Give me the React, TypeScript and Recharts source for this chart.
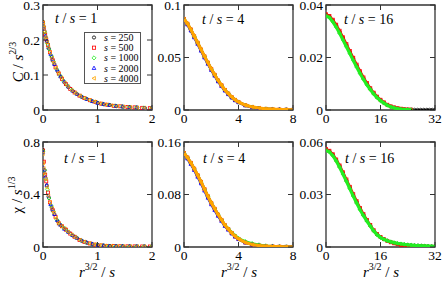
import React from 'react';
import { ScatterChart, Scatter, XAxis, YAxis, ReferenceArea } from 'recharts';

const FONT = 'Liberation Serif';
const AX = '#333333';

// ---------- series meta ----------
const S_LABELS = ['250', '500', '1000', '2000', '4000'];
const S_COLORS = ['#000000', '#ff0000', '#22ee22', '#0000ff', '#ffa500'];
type Kind = 'circle' | 'square' | 'diamond' | 'up' | 'left';
const S_KINDS: Kind[] = ['circle', 'square', 'diamond', 'up', 'left'];

// ---------- t/s = 1 (shared x = r^{3/2}/s per s) ----------
const X1_250 = [0, 0.03, 0.07, 0.11, 0.16, 0.21, 0.27, 0.33, 0.4, 0.47, 0.55, 0.63, 0.72, 0.81, 0.91, 1.01, 1.12, 1.23, 1.35, 1.47, 1.6, 1.73, 1.87, 2.0];
const X1_500 = [0, 0.015, 0.04, 0.06, 0.09, 0.13, 0.18, 0.23, 0.29, 0.35, 0.42, 0.5, 0.58, 0.67, 0.76, 0.86, 0.96, 1.07, 1.18, 1.3, 1.42, 1.55, 1.68, 1.82, 1.96];
const X1_1000 = [0, 0.01, 0.03, 0.05, 0.08, 0.11, 0.15, 0.19, 0.25, 0.31, 0.38, 0.45, 0.53, 0.61, 0.7, 0.79, 0.89, 0.99, 1.1, 1.21, 1.33, 1.45, 1.58, 1.71, 1.85, 1.99];
const X1_2000 = [0, 0.005, 0.02, 0.045, 0.07, 0.1, 0.14, 0.17, 0.21, 0.26, 0.32, 0.39, 0.46, 0.54, 0.62, 0.71, 0.8, 0.9, 1.0, 1.11, 1.22, 1.34, 1.46, 1.59, 1.72, 1.86, 2.0];
const X1_4000 = [0, 0.005, 0.015, 0.03, 0.05, 0.075, 0.1, 0.13, 0.165, 0.2, 0.24, 0.285, 0.34, 0.4, 0.46, 0.53, 0.6, 0.68, 0.76, 0.85, 0.94, 1.04, 1.14, 1.25, 1.36, 1.48, 1.6, 1.73, 1.86, 2.0];

// C / s^{2/3}, t/s = 1
const C1_250 = [0.252, 0.224, 0.197, 0.175, 0.151, 0.131, 0.11, 0.094, 0.078, 0.065, 0.054, 0.045, 0.037, 0.031, 0.025, 0.02, 0.016, 0.014, 0.011, 0.0095, 0.008, 0.007, 0.006, 0.005];
const C1_500 = [0.248, 0.236, 0.215, 0.202, 0.186, 0.165, 0.142, 0.122, 0.104, 0.089, 0.074, 0.06, 0.05, 0.041, 0.034, 0.028, 0.023, 0.018, 0.015, 0.012, 0.0105, 0.0085, 0.0075, 0.0062, 0.0052];
const C1_1000 = [0.246, 0.238, 0.222, 0.208, 0.19, 0.174, 0.155, 0.139, 0.117, 0.099, 0.083, 0.069, 0.057, 0.047, 0.039, 0.032, 0.026, 0.021, 0.017, 0.0145, 0.012, 0.01, 0.0085, 0.0072, 0.0062, 0.0052];
const C1_2000 = [0.247, 0.242, 0.231, 0.212, 0.197, 0.179, 0.16, 0.146, 0.131, 0.115, 0.096, 0.081, 0.067, 0.055, 0.046, 0.038, 0.031, 0.025, 0.02, 0.017, 0.014, 0.0115, 0.0098, 0.0083, 0.0071, 0.006, 0.005];
const C1_4000 = [0.25, 0.243, 0.235, 0.224, 0.208, 0.193, 0.179, 0.164, 0.148, 0.134, 0.12, 0.106, 0.092, 0.078, 0.067, 0.056, 0.048, 0.04, 0.034, 0.028, 0.024, 0.019, 0.016, 0.013, 0.011, 0.0095, 0.008, 0.0068, 0.006, 0.005];

// chi / s^{1/3}, t/s = 1
const K1_250 = [0.74, 0.585, 0.47, 0.373, 0.3, 0.25, 0.196, 0.165, 0.14, 0.113, 0.087, 0.067, 0.046, 0.032, 0.022, 0.015, 0.0105, 0.0078, 0.0065, 0.0057, 0.005, 0.0045, 0.004, 0.004];
const K1_500 = [0.735, 0.65, 0.55, 0.5, 0.415, 0.34, 0.28, 0.23, 0.18, 0.158, 0.132, 0.102, 0.078, 0.054, 0.039, 0.027, 0.018, 0.012, 0.0085, 0.007, 0.006, 0.0052, 0.0047, 0.0042, 0.004];
const K1_1000 = [0.73, 0.56, 0.585, 0.52, 0.44, 0.373, 0.315, 0.27, 0.21, 0.172, 0.145, 0.12, 0.092, 0.072, 0.05, 0.035, 0.024, 0.016, 0.011, 0.008, 0.0066, 0.0057, 0.005, 0.0045, 0.004, 0.004];
const K1_2000 = [0.72, 0.6, 0.58, 0.535, 0.47, 0.39, 0.325, 0.29, 0.25, 0.205, 0.168, 0.138, 0.115, 0.09, 0.069, 0.049, 0.035, 0.024, 0.015, 0.011, 0.0078, 0.0066, 0.0057, 0.005, 0.0045, 0.004, 0.004];
const K1_4000 = [0.71, 0.64, 0.6, 0.56, 0.52, 0.455, 0.39, 0.34, 0.295, 0.26, 0.22, 0.185, 0.158, 0.14, 0.116, 0.094, 0.073, 0.052, 0.039, 0.027, 0.019, 0.014, 0.01, 0.0077, 0.0065, 0.0056, 0.005, 0.0045, 0.004, 0.004];

// ---------- t/s = 4 ----------
const X4 = [0, 0.25, 0.5, 0.75, 1, 1.25, 1.5, 1.75, 2, 2.25, 2.5, 2.75, 3, 3.25, 3.5, 3.75, 4, 4.5, 5, 5.5, 6, 6.5, 7, 7.5, 8];
const C4_250 = [0.0868, 0.0823, 0.0768, 0.0703, 0.0642, 0.0577, 0.0512, 0.0451, 0.0392, 0.0337, 0.0282, 0.0237, 0.0192, 0.0157, 0.0124, 0.0097, 0.0077, 0.0046, 0.0029, 0.0018, 0.0011, 0.0007, 0.0004, 0.0003, 0.0002];
const C4_500 = [0.0866, 0.0821, 0.0766, 0.0701, 0.064, 0.0575, 0.051, 0.045, 0.039, 0.0335, 0.028, 0.0235, 0.019, 0.0155, 0.0122, 0.0095, 0.0075, 0.0045, 0.0028, 0.0018, 0.0011, 0.0007, 0.0004, 0.0003, 0.0002];
const C4_1000 = [0.0864, 0.0818, 0.0763, 0.0698, 0.0637, 0.0572, 0.0507, 0.0447, 0.0387, 0.0333, 0.0278, 0.0233, 0.0189, 0.0154, 0.0121, 0.0094, 0.0074, 0.0045, 0.0028, 0.0018, 0.0011, 0.0007, 0.0004, 0.0003, 0.0002];
const C4_2000 = [0.086, 0.0812, 0.0755, 0.069, 0.0628, 0.0563, 0.0498, 0.0438, 0.0379, 0.0325, 0.0271, 0.0227, 0.0183, 0.0149, 0.0117, 0.0091, 0.0072, 0.0043, 0.0027, 0.0017, 0.001, 0.0006, 0.0004, 0.0003, 0.0002];
const C4_4000 = [0.0866, 0.0822, 0.0767, 0.0702, 0.0641, 0.0576, 0.0511, 0.0451, 0.0391, 0.0336, 0.0281, 0.0236, 0.0191, 0.0156, 0.0123, 0.0096, 0.0076, 0.0046, 0.0029, 0.0019, 0.0012, 0.0008, 0.0005, 0.0003, 0.0002];

const K4_250 = [0.1435, 0.1365, 0.1285, 0.1195, 0.1095, 0.0995, 0.0885, 0.0775, 0.0675, 0.0585, 0.0495, 0.0415, 0.0335, 0.0275, 0.0215, 0.0165, 0.0125, 0.007, 0.004, 0.0023, 0.0014, 0.0008, 0.0005, 0.0003, 0.0002];
const K4_500 = [0.1432, 0.1362, 0.1282, 0.1192, 0.1092, 0.0992, 0.0882, 0.0772, 0.0672, 0.0582, 0.0492, 0.0412, 0.0332, 0.0272, 0.0212, 0.0162, 0.0122, 0.0069, 0.0039, 0.0023, 0.0013, 0.0008, 0.0005, 0.0003, 0.0002];
const K4_1000 = [0.1428, 0.1358, 0.1278, 0.1188, 0.1088, 0.0988, 0.0878, 0.077, 0.067, 0.058, 0.049, 0.0412, 0.0334, 0.0276, 0.022, 0.0172, 0.0133, 0.0085, 0.0055, 0.0035, 0.002, 0.0011, 0.0006, 0.0004, 0.0002];
const K4_2000 = [0.142, 0.1345, 0.1262, 0.117, 0.1068, 0.0967, 0.0857, 0.0748, 0.0648, 0.056, 0.0472, 0.0395, 0.0318, 0.026, 0.0203, 0.0155, 0.0117, 0.0066, 0.0037, 0.0021, 0.0012, 0.0007, 0.0004, 0.0003, 0.0002];
const K4_4000 = [0.143, 0.1362, 0.1282, 0.1192, 0.1092, 0.0992, 0.0882, 0.0772, 0.0672, 0.0582, 0.0492, 0.0412, 0.0332, 0.0272, 0.0212, 0.0162, 0.0122, 0.0068, 0.0038, 0.0022, 0.0013, 0.0008, 0.0005, 0.0003, 0.0002];

// ---------- t/s = 16 ----------
const X16_250 = [0, 1, 2, 3, 4, 5, 6, 7, 8, 9, 10, 11, 12, 13, 14, 15, 16, 17, 18, 19, 20, 21, 22, 23, 24, 25, 26, 26.9, 27.8, 28.7, 29.6, 30.4, 31.2, 32];
const X16 = [0, 1, 2, 3, 4, 5, 6, 7, 8, 9, 10, 11, 12, 13, 14, 15, 16, 17, 18, 19, 20, 21, 22, 23, 24, 25];
const C16_250 = [0.0363, 0.0356, 0.0341, 0.0321, 0.0298, 0.0273, 0.0247, 0.0221, 0.0195, 0.0169, 0.0144, 0.0121, 0.01, 0.0081, 0.0064, 0.005, 0.0038, 0.0028, 0.0019, 0.0013, 0.0009, 0.0006, 0.0004, 0.0003, 0.0002, 0.00015, 0.0001, 0.0001, 0.0001, 0.0001, 0.0001, 0.0001, 0.0001, 0.0001];
const C16_500 = [0.0365, 0.0358, 0.0344, 0.0325, 0.0302, 0.0277, 0.0251, 0.0225, 0.0199, 0.0173, 0.0148, 0.0124, 0.0103, 0.0083, 0.0066, 0.0051, 0.0039, 0.0029, 0.002, 0.0014, 0.001, 0.0007, 0.0005, 0.0003, 0.0002, 0.00015];
const C16_1000 = [0.036, 0.0352, 0.0336, 0.0316, 0.0292, 0.0267, 0.0241, 0.0215, 0.0189, 0.0164, 0.0139, 0.0117, 0.0096, 0.0078, 0.0061, 0.0047, 0.0035, 0.0026, 0.0018, 0.0012, 0.0008, 0.0005, 0.0003, 0.0002, 0.00015, 0.0001];

const X16K = [0, 1, 2, 3, 4, 5, 6, 7, 8, 9, 10, 11, 12, 13, 14, 15, 16, 17, 18, 19, 20, 21, 22, 23, 24, 25, 26, 27, 28, 29, 30, 31, 32];
const K16_250 = [0.0557, 0.0547, 0.0527, 0.0497, 0.0462, 0.0422, 0.0381, 0.0339, 0.0297, 0.0257, 0.0219, 0.0184, 0.0152, 0.0123, 0.0094, 0.0072, 0.0056, 0.0045, 0.0036, 0.0029, 0.0023, 0.0019, 0.0016, 0.0014, 0.0012, 0.001, 0.0009, 0.0008, 0.0007, 0.0006, 0.0005, 0.0004, 0.0004];
const K16_500 = [0.056, 0.055, 0.053, 0.05, 0.0466, 0.0427, 0.0386, 0.0344, 0.0302, 0.0262, 0.0223, 0.0188, 0.0155, 0.0126, 0.0096, 0.0074, 0.0057, 0.0045, 0.0035, 0.0027, 0.0021, 0.0016, 0.0012, 0.0009, 0.0007, 0.0005, 0.0004, 0.0003, 0.0002, 0.0002, 0.0001, 0.0001, 0.0001];
const K16_1000 = [0.0553, 0.0543, 0.0522, 0.0492, 0.0456, 0.0416, 0.0375, 0.0333, 0.0291, 0.0251, 0.0213, 0.0179, 0.0148, 0.012, 0.0092, 0.007, 0.0054, 0.0044, 0.0036, 0.003, 0.0025, 0.0021, 0.0018, 0.0015, 0.0013, 0.0011, 0.0009, 0.0008, 0.0007, 0.0006, 0.0005, 0.0004, 0.0003];

// ---------- ticks ----------
const XT1 = [0, 1, 2];
const XT4 = [0, 4, 8];
const XT16 = [0, 16, 32];
const YT_C1 = [0, 0.1, 0.2, 0.3];
const YT_C4 = [0, 0.05, 0.1];
const YT_C16 = [0, 0.02, 0.04];
const YT_K1 = [0, 0.4, 0.8];
const YT_K4 = [0, 0.08, 0.16];
const YT_K16 = [0, 0.03, 0.06];

// ---------- layout ----------
const PW = 109;
const PH = 105;
const ML = 46;
const MT = 8;
const MR = 8;
const MB = 26;
const TICK = 5;
const FS = 13.5;

type Pt = { x: number; y: number };
const zip = (xs: number[], ys: number[]): Pt[] => xs.map((x, i) => ({ x, y: ys[i] }));

function marker(kind: Kind, cx: number, cy: number, color: string, r: number, sw: number) {
  const common = { fill: 'none', stroke: color, strokeWidth: sw };
  switch (kind) {
    case 'circle':
      return <circle cx={cx} cy={cy} r={r} {...common} />;
    case 'square':
      return <rect x={cx - r} y={cy - r} width={2 * r} height={2 * r} {...common} />;
    case 'diamond': {
      const d = r * 1.3;
      return <polygon points={`${cx},${cy - d} ${cx + d},${cy} ${cx},${cy + d} ${cx - d},${cy}`} {...common} />;
    }
    case 'up':
      return <polygon points={`${cx},${cy - r * 1.25} ${cx + r * 1.15},${cy + r * 0.85} ${cx - r * 1.15},${cy + r * 0.85}`} {...common} />;
    case 'left':
    default:
      return <polygon points={`${cx - r * 1.25},${cy} ${cx + r * 0.85},${cy - r * 1.15} ${cx + r * 0.85},${cy + r * 1.15}`} {...common} />;
  }
}

type Series = { idx: number; xs: number[]; ys: number[]; line?: number };

const XTick = (p: any) => {
  const { x, y, payload } = p;
  return (
    <g>
      <line x1={x} x2={x} y1={y} y2={y - TICK} stroke={AX} strokeWidth={1} />
      <line x1={x} x2={x} y1={y - PH} y2={y - PH + TICK} stroke={AX} strokeWidth={1} />
      <text x={x} y={y + 13} textAnchor="middle" fontFamily={FONT} fontSize={FS} fill="#000">
        {String(payload.value)}
      </text>
    </g>
  );
};

const YTick = (p: any) => {
  const { x, y, payload } = p;
  const ax = x + 3;
  return (
    <g>
      <line x1={ax} x2={ax + TICK} y1={y} y2={y} stroke={AX} strokeWidth={1} />
      <line x1={ax + PW - TICK} x2={ax + PW} y1={y} y2={y} stroke={AX} strokeWidth={1} />
      <text x={x} y={y + 4.8} textAnchor="end" fontFamily={FONT} fontSize={FS} fill="#000">
        {String(payload.value)}
      </text>
    </g>
  );
};

function Panel(props: {
  left: number;
  top: number;
  xMax: number;
  xTicks: number[];
  yMax: number;
  yTicks: number[];
  series: Series[];
  r: number;
}) {
  const { left, top, xMax, xTicks, yMax, yTicks, series, r } = props;
  const W = ML + PW + MR;
  const H = MT + PH + MB;
  return (
    <div style={{ position: 'absolute', left: left - ML, top: top - MT, width: W, height: H }}>
      <ScatterChart width={W} height={H} margin={{ top: MT, right: MR, bottom: 0, left: 0 }}>
        <XAxis
          type="number"
          dataKey="x"
          domain={[0, xMax]}
          ticks={xTicks}
          interval={0}
          allowDataOverflow
          height={MB}
          axisLine={false}
          tickLine={false}
          tickSize={0}
          tickMargin={0}
          tick={(tp: any) => <XTick {...tp} />}
        />
        <YAxis
          type="number"
          dataKey="y"
          domain={[0, yMax]}
          ticks={yTicks}
          interval={0}
          allowDataOverflow
          width={ML}
          axisLine={false}
          tickLine={false}
          tickSize={0}
          tickMargin={3}
          tick={(tp: any) => <YTick {...tp} />}
        />
        <ReferenceArea x1={0} x2={xMax} y1={0} y2={yMax} fill="none" fillOpacity={0} stroke={AX} strokeWidth={1.3} ifOverflow="visible" />
        {series.map((s, i) => {
          const color = S_COLORS[s.idx];
          const kind = S_KINDS[s.idx];
          return (
            <Scatter
              key={i}
              data={zip(s.xs, s.ys)}
              isAnimationActive={false}
              line={s.line ? { stroke: color, strokeWidth: s.line } : false}
              shape={(sp: any) => (sp.cx == null ? <g /> : marker(kind, sp.cx, sp.cy, color, r, 0.8))}
            />
          );
        })}
      </ScatterChart>
    </div>
  );
}

const Title = ({ x, y, v }: { x: number; y: number; v: string }) => (
  <text x={x} y={y} fontFamily={FONT} fontSize={14} fill="#000">
    <tspan fontStyle="italic">t</tspan>
    <tspan>{'\u00a0/\u00a0'}</tspan>
    <tspan fontStyle="italic">s</tspan>
    <tspan>{`\u00a0=\u00a0${v}`}</tspan>
  </text>
);

const XLabel = ({ cx }: { cx: number }) => (
  <text x={cx} y={277} textAnchor="middle" fontFamily={FONT} fontSize={15} fill="#000">
    <tspan fontStyle="italic">r</tspan>
    <tspan fontSize={10} dy={-7}>3/2</tspan>
    <tspan dy={7}>{'\u00a0/\u00a0'}</tspan>
    <tspan fontStyle="italic">s</tspan>
  </text>
);

export default function App() {
  const p1: Series[] = [
    { idx: 0, xs: X1_250, ys: C1_250 },
    { idx: 1, xs: X1_500, ys: C1_500 },
    { idx: 2, xs: X1_1000, ys: C1_1000 },
    { idx: 3, xs: X1_2000, ys: C1_2000 },
    { idx: 4, xs: X1_4000, ys: C1_4000 },
  ];
  const p4: Series[] = [
    { idx: 0, xs: X1_250, ys: K1_250 },
    { idx: 1, xs: X1_500, ys: K1_500 },
    { idx: 2, xs: X1_1000, ys: K1_1000 },
    { idx: 3, xs: X1_2000, ys: K1_2000 },
    { idx: 4, xs: X1_4000, ys: K1_4000 },
  ];
  const p2: Series[] = [
    { idx: 0, xs: X4, ys: C4_250, line: 2.5 },
    { idx: 1, xs: X4, ys: C4_500, line: 2.5 },
    { idx: 2, xs: X4, ys: C4_1000, line: 2.5 },
    { idx: 3, xs: X4, ys: C4_2000, line: 2.5 },
    { idx: 4, xs: X4, ys: C4_4000, line: 3.2 },
  ];
  const p5: Series[] = [
    { idx: 0, xs: X4, ys: K4_250, line: 2.5 },
    { idx: 1, xs: X4, ys: K4_500, line: 2.5 },
    { idx: 2, xs: X4, ys: K4_1000, line: 2.5 },
    { idx: 3, xs: X4, ys: K4_2000, line: 2.5 },
    { idx: 4, xs: X4, ys: K4_4000, line: 3.2 },
  ];
  const p3: Series[] = [
    { idx: 0, xs: X16_250, ys: C16_250, line: 1 },
    { idx: 1, xs: X16, ys: C16_500, line: 2.5 },
    { idx: 2, xs: X16, ys: C16_1000, line: 3.2 },
  ];
  const p6: Series[] = [
    { idx: 0, xs: X16K, ys: K16_250, line: 2 },
    { idx: 1, xs: X16K, ys: K16_500, line: 2.5 },
    { idx: 2, xs: X16K, ys: K16_1000, line: 3.2 },
  ];

  return (
    <div style={{ position: 'absolute', left: 0, top: 0, width: 443, height: 281, background: '#fff', overflow: 'hidden' }}>
      <Panel left={43} top={5} xMax={2} xTicks={XT1} yMax={0.3} yTicks={YT_C1} series={p1} r={1.5} />
      <Panel left={184} top={5} xMax={8} xTicks={XT4} yMax={0.1} yTicks={YT_C4} series={p2} r={1.5} />
      <Panel left={326} top={5} xMax={32} xTicks={XT16} yMax={0.04} yTicks={YT_C16} series={p3} r={1.5} />
      <Panel left={43} top={142} xMax={2} xTicks={XT1} yMax={0.8} yTicks={YT_K1} series={p4} r={1.5} />
      <Panel left={184} top={142} xMax={8} xTicks={XT4} yMax={0.16} yTicks={YT_K4} series={p5} r={1.5} />
      <Panel left={326} top={142} xMax={32} xTicks={XT16} yMax={0.06} yTicks={YT_K16} series={p6} r={1.5} />

      <svg width={443} height={281} style={{ position: 'absolute', left: 0, top: 0, pointerEvents: 'none' }}>
        <Title x={55} y={22.5} v="1" />
        <Title x={202} y={23.5} v="4" />
        <Title x={344} y={23.5} v="16" />
        <Title x={64} y={162.5} v="1" />
        <Title x={203} y={163} v="4" />
        <Title x={345} y={163} v="16" />

        <g transform="translate(23,62) rotate(-90)">
          <text x={0} y={0} textAnchor="middle" fontFamily={FONT} fontSize={15} fill="#000">
            <tspan fontStyle="italic">C</tspan>
            <tspan>{'\u00a0/\u00a0'}</tspan>
            <tspan fontStyle="italic">s</tspan>
            <tspan fontSize={10} dy={-7}>{'2/3'}</tspan>
          </text>
        </g>
        <g transform="translate(22,195) rotate(-90)">
          <text x={0} y={0} textAnchor="middle" fontFamily={FONT} fontSize={15} fill="#000">
            <tspan>χ</tspan>
            <tspan>{'\u00a0/\u00a0'}</tspan>
            <tspan fontStyle="italic">s</tspan>
            <tspan fontSize={10} dy={-7}>{'1/3'}</tspan>
          </text>
        </g>

        <XLabel cx={97} />
        <XLabel cx={239} />
        <XLabel cx={381} />

        <rect x={84.5} y={32.5} width={56} height={51} fill="#fff" stroke="#555" strokeWidth={1} />
        {S_LABELS.map((lab, i) => {
          const yy = 37.5 + i * 10.2;
          return (
            <g key={lab}>
              {marker(S_KINDS[i], 94, yy, S_COLORS[i], 1.6, 0.8)}
              <text x={104} y={yy + 3.5} fontFamily={FONT} fontSize={10} fill="#000">
                <tspan fontStyle="italic">s</tspan>
                <tspan>{`\u00a0=\u00a0${lab}`}</tspan>
              </text>
            </g>
          );
        })}
      </svg>
    </div>
  );
}
